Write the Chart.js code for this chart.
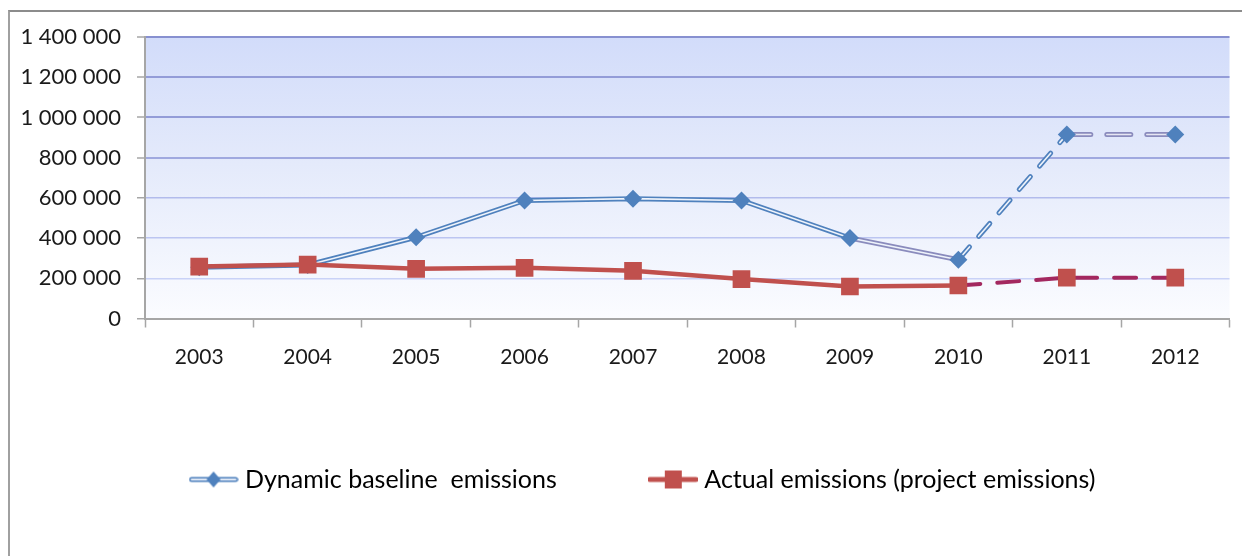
<!DOCTYPE html>
<html>
<head>
<meta charset="utf-8">
<script src="https://cdn.jsdelivr.net/npm/chart.js@4/dist/chart.umd.min.js"></script>
<style>
  html, body { margin: 0; padding: 0; background: #ffffff; }
  #wrap { position: relative; width: 1242px; height: 556px; overflow: hidden; }
  #frame { position: absolute; left: 8px; top: 10px; width: 1300px; height: 600px;
           border-top: 2px solid #8c8c8c; border-left: 2px solid #a0a0a0; }
  canvas { position: absolute; left: 0; top: 0; }
</style>
</head>
<body>
<div id="wrap">
  <div id="frame"></div>
  <canvas id="c" width="1242" height="556"></canvas>
</div>
<script>
// ---- data ----
const years = ['2003','2004','2005','2006','2007','2008','2009','2010','2011','2012'];
const baselineEmissions = [255000, 266000, 404000, 587000, 596000, 587000, 400000, 292000, 915000, 915000];
const actualEmissions   = [258000, 268000, 247000, 252000, 237000, 196000, 159000, 164000, 203000, 203000];
const yTickValues = [0, 200000, 400000, 600000, 800000, 1000000, 1200000, 1400000];
const seriesNames = ['Dynamic baseline  emissions', 'Actual emissions (project emissions)'];

const FONT = "Lato, 'Open Sans', sans-serif";
const BLUE = '#4f81bd';
const RED = '#c0504d';
const DASH_FROM = 7; // segments after 2010 are dashed

function fmt(v) {
  return String(v).replace(/\B(?=(\d{3})+(?!\d))/g, ' ');
}

// legend sample images
function legendImg(kind) {
  const cv = document.createElement('canvas');
  cv.width = 50; cv.height = 20;
  const g = cv.getContext('2d');
  g.lineCap = 'round';
  if (kind === 'blue') {
    g.strokeStyle = BLUE; g.lineWidth = 5;
    g.beginPath(); g.moveTo(3, 10); g.lineTo(47, 10); g.stroke();
    g.strokeStyle = '#dfe8f5'; g.lineWidth = 2;
    g.beginPath(); g.moveTo(3, 10); g.lineTo(47, 10); g.stroke();
    g.fillStyle = BLUE;
    g.beginPath(); g.moveTo(25, 2); g.lineTo(32, 10); g.lineTo(25, 18); g.lineTo(18, 10); g.closePath(); g.fill();
  } else {
    g.strokeStyle = RED; g.lineWidth = 5;
    g.beginPath(); g.moveTo(2, 10); g.lineTo(48, 10); g.stroke();
    g.fillStyle = RED;
    g.fillRect(17, 1, 17, 18);
  }
  return cv;
}

const bgPlugin = {
  id: 'plotBg',
  afterLayout(chart) {
    // centre the legend row like the original (offset to the right)
    if (chart.legend) chart.legend.left = 57;
  },
  beforeDraw(chart) {
    const a = chart.chartArea;
    const ctx = chart.ctx;
    const gr = ctx.createLinearGradient(0, a.top, 0, a.bottom);
    gr.addColorStop(0, '#d2dcfa');
    gr.addColorStop(0.45, '#e4eafb');
    gr.addColorStop(1, '#fbfcff');
    ctx.save();
    ctx.fillStyle = gr;
    ctx.fillRect(a.left, a.top, a.right - a.left, a.bottom - a.top);
    ctx.restore();
  }
};

function gridColor(ctx) {
  const v = ctx.tick ? ctx.tick.value : 0;
  if (v === 0) return '#a6a6a6';
  if (v >= 1400000) return '#8790d0';
  if (v >= 1000000) return '#939cd8';
  if (v >= 800000) return '#a0a9df';
  if (v >= 600000) return '#b2bbec';
  if (v >= 400000) return '#bcc5f1';
  return '#c9d2f7';
}

new Chart(document.getElementById('c'), {
  type: 'line',
  data: {
    labels: years,
    datasets: [
      {
        label: seriesNames[1],
        data: actualEmissions,
        order: 0,
        borderColor: RED,
        borderWidth: 4.5,
        borderCapStyle: 'round',
        pointStyle: 'rect',
        pointRadius: 12.5,
        pointHoverRadius: 12.5,
        pointBackgroundColor: RED,
        pointBorderColor: RED,
        pointBorderWidth: 0,
        tension: 0,
        segment: {
          borderColor: c => c.p0DataIndex >= DASH_FROM ? '#a3285f' : undefined,
          borderDash: c => c.p0DataIndex >= DASH_FROM ? [22, 17] : undefined,
          borderWidth: c => c.p0DataIndex >= DASH_FROM ? 4 : undefined
        }
      },
      {
        label: seriesNames[0],
        data: baselineEmissions,
        order: 1,
        borderColor: '#eef3fb',
        borderWidth: 1.6,
        borderCapStyle: 'round',
        pointStyle: 'rectRot',
        pointRadius: 9,
        pointHoverRadius: 9,
        pointBackgroundColor: BLUE,
        pointBorderColor: BLUE,
        pointBorderWidth: 0,
        tension: 0,
        segment: {
          borderColor: c => c.p0DataIndex >= 8 ? '#e6e6f2' : undefined,
          borderDash: c => c.p0DataIndex >= 8 ? [24, 16] : (c.p0DataIndex >= DASH_FROM ? [17, 14] : undefined)
        }
      },
      {
        label: seriesNames[0] + ' outline',
        data: baselineEmissions,
        order: 2,
        borderColor: BLUE,
        borderWidth: 5,
        borderCapStyle: 'round',
        pointRadius: 0,
        pointHoverRadius: 0,
        tension: 0,
        segment: {
          borderColor: c => (c.p0DataIndex === 6 || c.p0DataIndex >= 8) ? '#8a8bbd' : undefined,
          borderDash: c => c.p0DataIndex >= 8 ? [24, 16] : (c.p0DataIndex >= DASH_FROM ? [17, 14] : undefined)
        }
      }
    ]
  },
  options: {
    responsive: false,
    animation: false,
    events: [],
    layout: { padding: { left: 10, right: 9, top: 37, bottom: 54 } },
    plugins: {
      tooltip: { enabled: false },
      legend: {
        position: 'bottom',
        align: 'center',
        labels: {
          font: { family: FONT, size: 25 },
          color: '#1a1a1a',
          usePointStyle: true,
          pointStyleWidth: 38,
          padding: 97,
          generateLabels: () => [
            { text: seriesNames[0], pointStyle: legendImg('blue'), fillStyle: BLUE, strokeStyle: BLUE, lineWidth: 0, datasetIndex: 1, hidden: false },
            { text: seriesNames[1], pointStyle: legendImg('red'), fillStyle: RED, strokeStyle: RED, lineWidth: 0, datasetIndex: 0, hidden: false }
          ]
        }
      }
    },
    scales: {
      x: {
        offset: true,
        grid: {
          offset: true,
          drawOnChartArea: false,
          drawTicks: true,
          tickLength: 9,
          tickColor: '#a6a6a6',
          tickWidth: 1.5
        },
        border: { color: '#a6a6a6', width: 2 },
        ticks: {
          font: { family: FONT, size: 21 },
          color: '#1a1a1a',
          padding: 17,
          maxRotation: 0
        },
        afterFit(s) { s.height = 51.5; }
      },
      y: {
        min: 0,
        max: 1400000,
        afterBuildTicks(s) { s.ticks = yTickValues.map(v => ({ value: v })); },
        grid: {
          color: gridColor,
          lineWidth: c => (c.tick && c.tick.value >= 800000) ? 2 : 1.5,
          drawTicks: true,
          tickLength: 8,
          tickColor: '#a6a6a6',
          tickWidth: 1.5
        },
        border: { color: '#a6a6a6', width: 2 },
        ticks: {
          font: { family: FONT, size: 22 },
          color: '#1a1a1a',
          padding: 16,
          callback: v => fmt(v)
        },
        afterFit(s) { s.width = 135; }
      }
    }
  },
  plugins: [bgPlugin]
});
</script>
</body>
</html>
